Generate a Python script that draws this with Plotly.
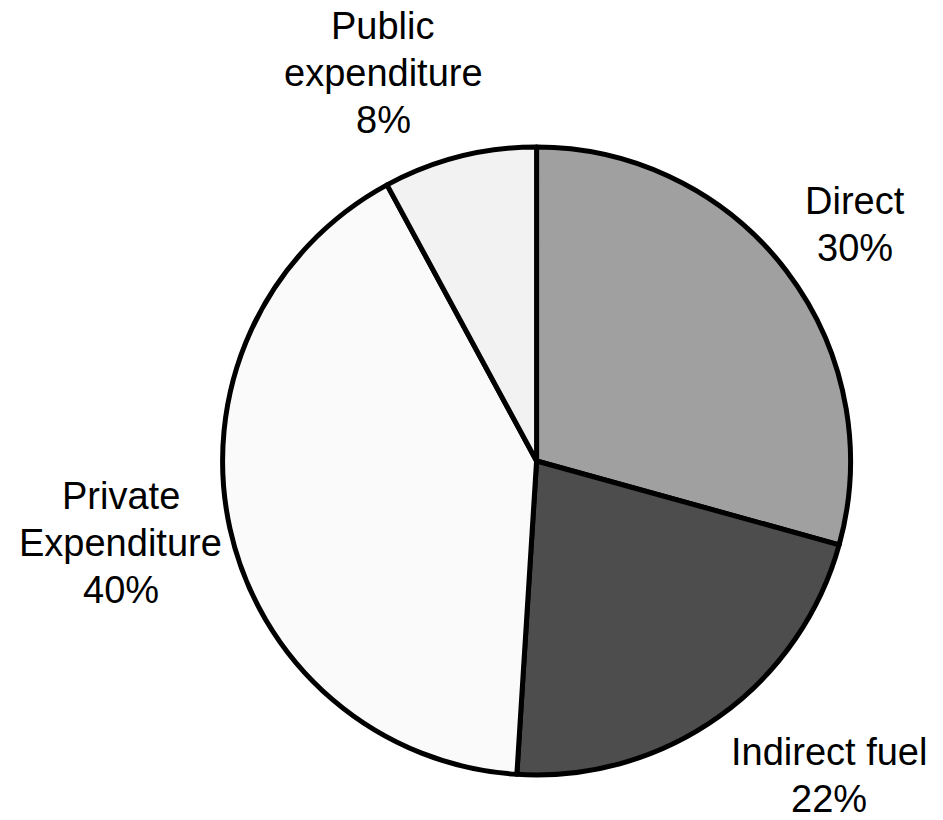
import plotly.graph_objects as go

categories = ["Direct", "Indirect fuel", "Private Expenditure", "Public expenditure"]
values = [29.3, 21.7, 41.1, 7.9]
label_lines = [["Direct", "30%"], ["Indirect fuel", "22%"],
               ["Private", "Expenditure", "40%"], ["Public", "expenditure", "8%"]]
colors = ["#A0A0A0", "#4D4D4D", "#FAFAFA", "#F2F2F2"]

W, H = 943, 820
FONT = 38
LINE_STEP = 47
# label block position: (x center px, first baseline px from top)
label_pos = [(855, 213), (829, 764), (121, 508), (383, 38)]

fig = go.Figure(go.Pie(
    labels=categories, values=values, sort=False, direction="clockwise", rotation=0,
    marker=dict(colors=colors, line=dict(color="black", width=5)),
    textinfo="none", hoverinfo="label+percent",
    domain=dict(x=[0.236, 0.902], y=[0.0549, 0.8207]),
))

for lines, (xc, yb) in zip(label_lines, label_pos):
    for i, line in enumerate(lines):
        ymid = yb + i * LINE_STEP - 0.31 * FONT
        fig.add_annotation(x=xc / W, y=1 - ymid / H, xref="paper", yref="paper", text=line,
                           showarrow=False, xanchor="center", yanchor="middle",
                           font=dict(family="Liberation Sans, Arial", size=FONT, color="black"))

fig.update_layout(width=W, height=H, margin=dict(l=0, r=0, t=0, b=0),
                  showlegend=False, paper_bgcolor="white", plot_bgcolor="white")
fig.write_html("out.html")
